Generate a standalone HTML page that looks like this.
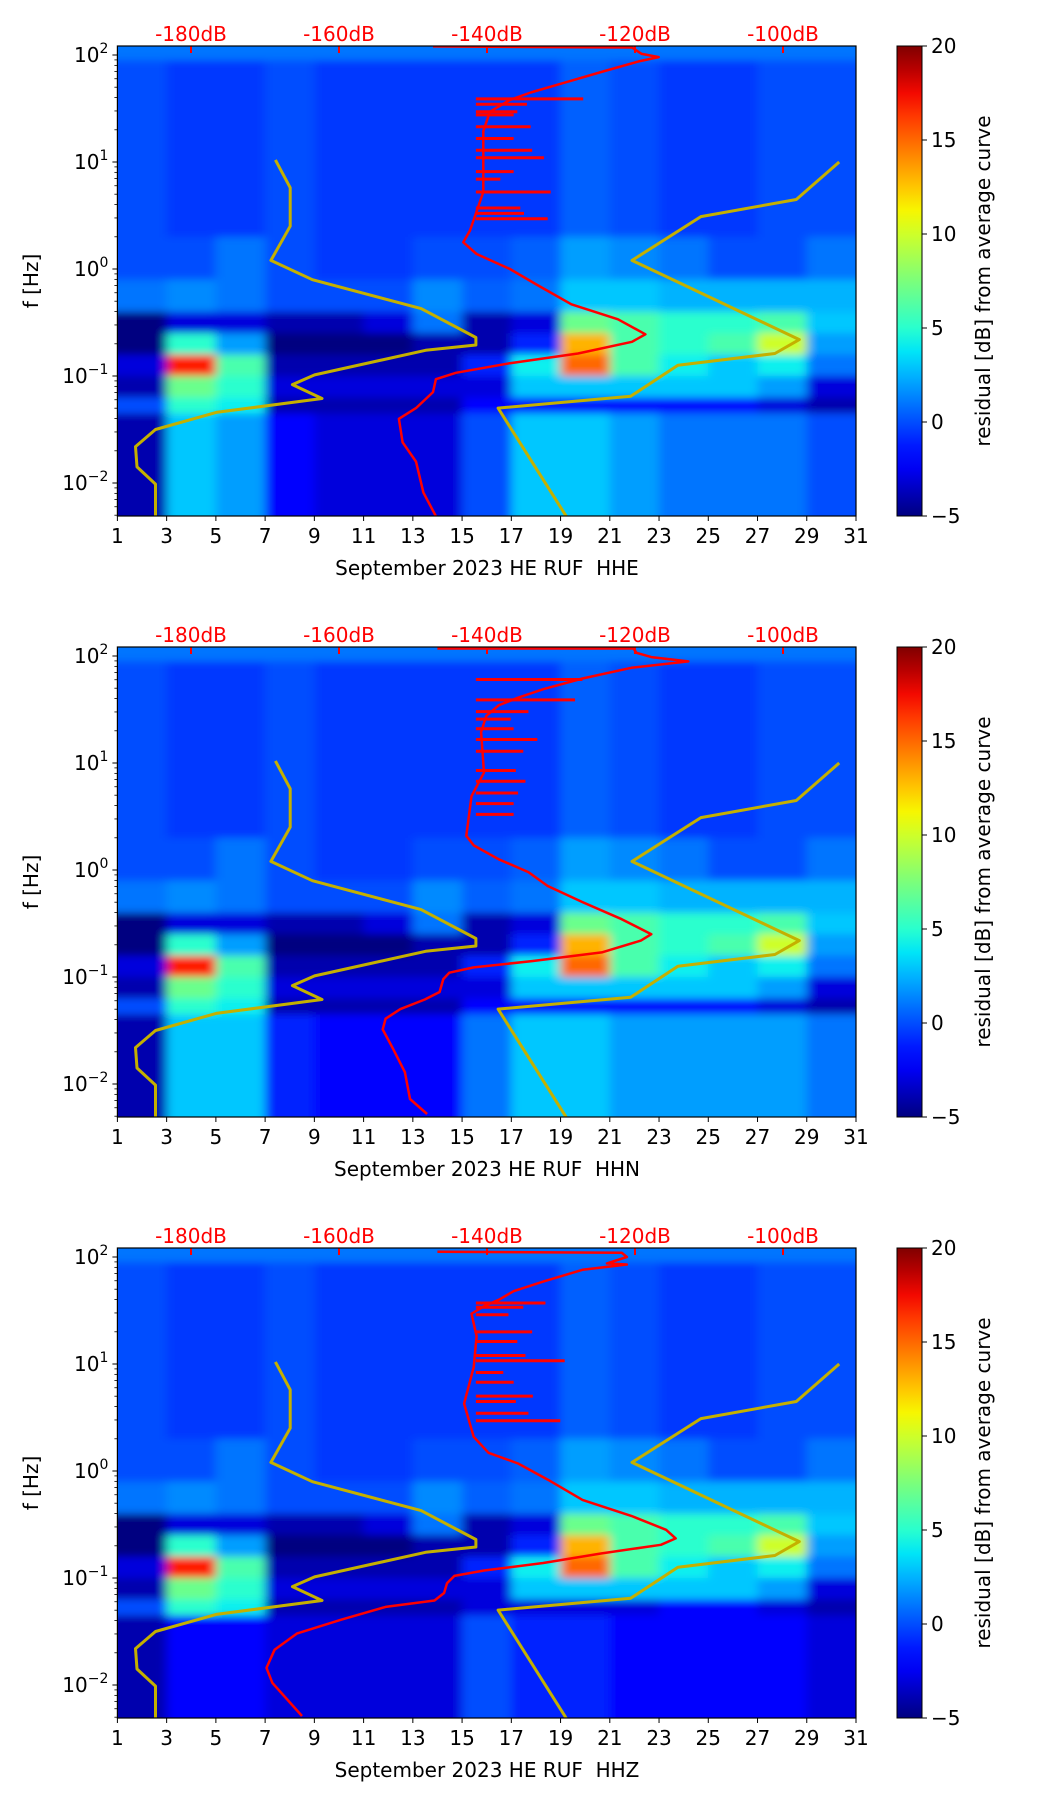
<!DOCTYPE html>
<html><head><meta charset="utf-8"><style>
html,body{margin:0;padding:0;background:#fff;}
svg text{font-family:"DejaVu Sans","Liberation Sans",sans-serif;}
</style></head><body>
<svg id="fig" xmlns="http://www.w3.org/2000/svg" width="1052" height="1806" viewBox="0 0 1052 1806">
<defs>
<filter id="soft" x="-20%" y="-20%" width="140%" height="140%"><feGaussianBlur stdDeviation="5 4"/></filter>
<linearGradient id="jetgrad" x1="0" y1="1" x2="0" y2="0"></linearGradient>
</defs>
</svg>
<script>
// ---------- DATA ----------
const panelTitles = ["September 2023 HE RUF\u00a0\u00a0HHE","September 2023 HE RUF\u00a0\u00a0HHN","September 2023 HE RUF\u00a0\u00a0HHZ"];
const dayTicks = [1,3,5,7,9,11,13,15,17,19,21,23,25,27,29,31];
const dbTicks = [-180,-160,-140,-120,-100];
const freqDecades = [-2,-1,0,1,2];
const cbTicks = [-5,0,5,10,15,20];
// heatmap bin edges (log10 f) and 2-day column centers
const rowEdges = [2.09,1.95,0.3,-0.1,-0.4,-0.6,-0.8,-1.0,-1.2,-1.35,-2.31];
const colDays = [2,4,6,8,10,12,14,16,18,20,22,24,26,28,30];
// residual values, panel 1
const h1r0 = [1,1,1,1,1,1,1,1,1,1,1,1,1,1,1];
const h1r1 = [0,-0.5,-0.5,0,-0.5,-0.5,-0.5,-0.5,-0.5,0.5,0,-0.5,-0.5,0,0];
const h1r2 = [0,0,1,0,-0.5,-0.5,0,0,0.5,2,1.5,1,0,0,1];
const h1r3 = [1,1.5,1,0,0,0,1.5,0.5,1,3,3,2.5,2.5,2.5,2.5];
const h1r4 = [-5,-3,-3,-4,-4,-3,1,-4,-3,7,6,5,5,6,3];
const h1r5 = [-5,5,2,-5,-5,-5,-4,-4,-1,13,6,5,6,10,2];
const h1r6 = [-3,17,6,-4,-4,-4,-4,-1,4,15,6,4,3,4,1];
const h1r7 = [-4,7,5,-3,-3,-3,-3,-3,3,3,3,3,3,2,-3];
const h1r8 = [0,5,4,-4,-4,-4,-4,-2,-2,-2,-2,-2,-2,-3,-4];
const h1r9 = [-4,3,2,-2,-3,-3,-3,0,3,3,2,1,1,1,0];
const h2r9 = [-4,3,3,-1,-2,-2,-2,1,3,3,2,2,2,2,1];
const h3r8 = [0,5,4,-4,-4,-4,-4,-3,-3,-3,-3,-2,-2,-3,-4];
const h3r9 = [-4,-2,-2,-3,-3,-3,-3,0,-1,-1,-2,-2,-2,-2,-3];
const heat1 = [h1r0,h1r1,h1r2,h1r3,h1r4,h1r5,h1r6,h1r7,h1r8,h1r9];
const heat2 = [h1r0,h1r1,h1r2,h1r3,h1r4,h1r5,h1r6,h1r7,h1r8,h2r9];
const heat3 = [h1r0,h1r1,h1r2,h1r3,h1r4,h1r5,h1r6,h1r7,h3r8,h3r9];
// noise models (dB, log10 f)
const nlnmDb = [-168.6,-166.6,-166.6,-169.2,-163.6,-148.9,-141.5,-141.5,-148.3,-163.3,-166.3,-162.3,-176.6,-184.8,-187.5,-187.3,-184.8,-184.8];
const nlnmF  = [1.02,0.76,0.40,0.08,-0.10,-0.37,-0.64,-0.71,-0.76,-0.99,-1.08,-1.21,-1.34,-1.50,-1.66,-1.85,-2.01,-2.31];
const nhnmDb = [-92.4,-98.2,-111.1,-120.4,-97.8,-101.1,-114.2,-120.6,-138.5,-129.3];
const nhnmF  = [1.0,0.65,0.49,0.08,-0.66,-0.79,-0.90,-1.19,-1.30,-2.31];
// PSD curves (dB, log10 f)
const psd1Db = [-147.3,-120.4,-119.1,-116.8,-119.5,-124.1,-129.6,-134.1,-136.9,-139.6,-140.5,-140.5,-142.3,-143.2,-141.4,-136.9,-133.2,-128.6,-122.3,-118.6,-120.4,-127.7,-136.9,-144.2,-146.9,-147.3,-149.6,-151.9,-151.4,-149.6,-148.6,-146.9];
const psd1F  = [2.08,2.07,2.01,1.98,1.94,1.85,1.74,1.65,1.58,1.47,1.29,0.72,0.36,0.25,0.14,0.0,-0.15,-0.33,-0.47,-0.61,-0.68,-0.79,-0.88,-0.97,-1.03,-1.15,-1.30,-1.40,-1.62,-1.80,-2.09,-2.31];
const psd2Db = [-146.7,-120.2,-119.8,-117.8,-112.8,-120.5,-127.1,-132.4,-135.8,-138.4,-140.1,-140.8,-140.4,-142.1,-142.8,-141.8,-138.4,-134.4,-131.8,-127.1,-121.8,-117.8,-119.2,-124.5,-133.8,-141.8,-145.1,-145.9,-146.4,-148.4,-151.7,-153.7,-154.1,-152.7,-151.1,-150.4,-148.1];
const psd2F  = [2.07,2.07,2.03,1.99,1.95,1.89,1.79,1.69,1.61,1.54,1.44,1.29,0.91,0.69,0.32,0.23,0.10,-0.02,-0.15,-0.30,-0.46,-0.60,-0.66,-0.77,-0.85,-0.91,-0.96,-1.02,-1.14,-1.21,-1.30,-1.39,-1.49,-1.67,-1.89,-2.14,-2.28];
const psd3Db = [-146.7,-121.8,-121.1,-123.8,-121.1,-127.1,-132.4,-136.4,-138.4,-140.4,-142.1,-141.4,-141.8,-143.1,-141.8,-139.8,-135.8,-131.8,-127.1,-120.5,-115.8,-114.5,-116.5,-124.5,-132.4,-140.4,-144.4,-145.4,-145.8,-147.1,-153.7,-159.7,-165.7,-168.7,-169.8,-169.0,-165.0];
const psd3F  = [2.05,2.04,2.00,1.94,1.93,1.88,1.77,1.68,1.60,1.54,1.47,1.26,0.97,0.63,0.32,0.17,0.07,-0.08,-0.27,-0.42,-0.55,-0.63,-0.69,-0.77,-0.86,-0.93,-0.98,-1.05,-1.14,-1.21,-1.27,-1.39,-1.52,-1.67,-1.84,-1.98,-2.29];
// spectral spikes (tip dB, log10 f)
const spk1Db = [-127.0,-134.6,-135.9,-136.4,-134.1,-136.4,-133.9,-132.3,-136.4,-138.2,-131.4,-135.5,-135.0,-131.8];
const spk1F  = [1.59,1.54,1.47,1.44,1.33,1.22,1.11,1.04,0.91,0.84,0.72,0.57,0.52,0.47];
const spk2Db = [-127.1,-128.1,-134.4,-136.8,-136.4,-133.2,-135.1,-136.1,-134.8,-135.8,-136.4,-136.4];
const spk2F  = [1.78,1.59,1.48,1.41,1.32,1.22,1.11,0.93,0.83,0.72,0.62,0.52];
const spk3Db = [-132.1,-135.1,-137.1,-133.9,-135.9,-134.8,-129.5,-137.8,-136.4,-133.8,-136.1,-134.4,-130.1];
const spk3F  = [1.57,1.53,1.46,1.30,1.21,1.08,1.03,0.92,0.83,0.70,0.65,0.54,0.47];

// ---------- SCALES ----------
const panelOffsets = [0,601,1202];
const X0=117.4, X1=856, PT=46, PB=516;
function xDay(d){return X0+(d-1)*(X1-X0)/30;}
function xDb(db){return 191+(db+180)*7.4;}
function yF(off,lf){return off+55+(2-lf)*107;}
function yCb(off,v){return off+PB-(v+5)*(PB-PT)/25;}
function jet(v){
  const t=Math.max(0,Math.min(1,(v+5)/25));
  function seg(pts){for(let i=1;i<pts.length;i++){if(t<=pts[i][0]){const a=pts[i-1],b=pts[i];return a[1]+(b[1]-a[1])*(t-a[0])/((b[0]-a[0])||1);}}return pts[pts.length-1][1];}
  const r=seg([[0,0],[0.35,0],[0.66,1],[0.89,1],[1,0.5]]);
  const g=seg([[0,0],[0.125,0],[0.375,1],[0.64,1],[0.91,0],[1,0]]);
  const b=seg([[0,0.5],[0.11,1],[0.34,1],[0.65,0],[1,0]]);
  return `rgb(${Math.round(r*255)},${Math.round(g*255)},${Math.round(b*255)})`;
}
const NS="http://www.w3.org/2000/svg";
const svg=document.getElementById('fig');
function mk(tag,attrs,parent){const e=document.createElementNS(NS,tag);for(const k in attrs)e.setAttribute(k,attrs[k]);(parent||svg).appendChild(e);return e;}

const grad=document.getElementById('jetgrad');
for(let i=0;i<=20;i++){const v=-5+25*i/20;mk('stop',{offset:(i/20),'stop-color':jet(v)},grad);}

const heats=[heat1,heat2,heat3];
const psdDb=[psd1Db,psd2Db,psd3Db], psdF=[psd1F,psd2F,psd3F];
const spkDb=[spk1Db,spk2Db,spk3Db], spkF=[spk1F,spk2F,spk3F];
const FS=20;

panelOffsets.forEach((off,p)=>{
  const g=mk('g',{});
  
  
  const cp=mk('clipPath',{id:'clip'+p},g);
  mk('rect',{x:X0,y:off+PT,width:X1-X0,height:PB-PT},cp);
  const plot=mk('g',{'clip-path':`url(#clip${p})`},g);
  
  
  const bg=mk('rect',{x:X0,y:off+PT,width:X1-X0,height:PB-PT,fill:jet(0)},plot);
  
  
  const hm=mk('g',{filter:'url(#soft)'},plot);
  
  
  const M=heats[p];
  M.forEach((row,ri)=>{
    const yTop=yF(off,rowEdges[ri]), yBot=yF(off,rowEdges[ri+1]);
    row.forEach((v,ci)=>{
      const xa=xDay(colDays[ci]-1)-(ci===0?20:0), xb=xDay(colDays[ci]+1)+(ci===row.length-1?20:0);
      const r=mk('rect',{x:xa,y:yTop-(ri===0?20:0),width:xb-xa+0.5,height:yBot-yTop+0.5+(ri===0?20:0)+(ri===M.length-1?20:0),fill:jet(v)},hm);
      
      
    });
  });
  [[nlnmDb,nlnmF,'low-noise-model'],[nhnmDb,nhnmF,'high-noise-model']].forEach(([d,f,n])=>{
    const pts=d.map((db,i)=>xDb(db).toFixed(1)+','+yF(off,f[i]).toFixed(1)).join(' ');
    const l=mk('polyline',{points:pts,fill:'none',stroke:'#c4b000',"stroke-width":3,"stroke-linejoin":"round"},plot);
    
    
  });
  const pts=psdDb[p].map((db,i)=>xDb(db).toFixed(1)+','+yF(off,psdF[p][i]).toFixed(1)).join(' ');
  const pl=mk('polyline',{points:pts,fill:'none',stroke:'#ff0000',"stroke-width":2.5,"stroke-linejoin":"round"},plot);
  
  
  spkDb[p].forEach((db,i)=>{
    const y=yF(off,spkF[p][i]);
    const s=mk('line',{x1:xDb(-141.5),y1:y,x2:xDb(db),y2:y,stroke:'#ff0000',"stroke-width":3},plot);
    
    
  });
  dbTicks.forEach(db=>{
    const x=xDb(db);
    const t=mk('line',{x1:x,y1:off+PT,x2:x,y2:off+PT+7,stroke:'#ff0000',"stroke-width":2},g);
    
    
    const lb=mk('text',{x:x,y:off+PT-5,fill:'#ff0000',"font-size":FS,"text-anchor":"middle"},g);
    lb.textContent=db+'dB';
    
    
  });
  const fr=mk('rect',{x:X0,y:off+PT,width:X1-X0,height:PB-PT,fill:'none',stroke:'#000',"stroke-width":1.2},g);
  
  
  dayTicks.forEach(d=>{
    const x=xDay(d);
    const t=mk('line',{x1:x,y1:off+PB,x2:x,y2:off+PB+5,stroke:'#000',"stroke-width":1},g);
    
    
    const lb=mk('text',{x:x,y:off+PB+27,"font-size":FS,"text-anchor":"middle",fill:'#000'},g);
    lb.textContent=d;
    
    
  });
  const xl=mk('text',{x:487,y:off+575,"font-size":FS,"text-anchor":"middle",fill:'#000'},g);
  xl.textContent=panelTitles[p];
  
  
  freqDecades.forEach(e=>{
    const y=yF(off,e);
    const t=mk('line',{x1:X0-5,y1:y,x2:X0,y2:y,stroke:'#000',"stroke-width":1},g);
    
    
    const lb=mk('text',{x:X0-9,y:y+7,"font-size":FS,"text-anchor":"end",fill:'#000'},g);
    lb.innerHTML='10<tspan dy="-9" font-size="14">'+(e<0?'\u2212'+(-e):e)+'</tspan>';
    
    
  });
  for(let e=-3;e<=2;e++){for(let m=2;m<=9;m++){
    const lf=e+Math.log10(m); if(lf<-2.31||lf>2.09) continue;
    const y=yF(off,lf);
    const t=mk('line',{x1:X0-3,y1:y,x2:X0,y2:y,stroke:'#000',"stroke-width":0.8},g);
    
    
  }}
  const yl=mk('text',{x:0,y:0,"font-size":FS,"text-anchor":"middle",fill:'#000',transform:`translate(38,${off+281}) rotate(-90)`},g);
  yl.textContent='f [Hz]';
  
  
  const cb=mk('rect',{x:897,y:off+PT,width:25,height:PB-PT,fill:'url(#jetgrad)',stroke:'#000',"stroke-width":1},g);
  
  
  cbTicks.forEach(v=>{
    const y=yCb(off,v);
    const t=mk('line',{x1:922,y1:y,x2:927,y2:y,stroke:'#000',"stroke-width":1},g);
    
    
    const lb=mk('text',{x:931,y:y+7,"font-size":FS,fill:'#000'},g);
    lb.textContent=(v<0?'\u2212'+(-v):v);
    
    
  });
  const cl=mk('text',{x:0,y:0,"font-size":FS,"text-anchor":"middle",fill:'#000',transform:`translate(990,${off+281}) rotate(-90)`},g);
  cl.textContent='residual [dB] from average curve';
  
  
});
</script>
</body></html>
